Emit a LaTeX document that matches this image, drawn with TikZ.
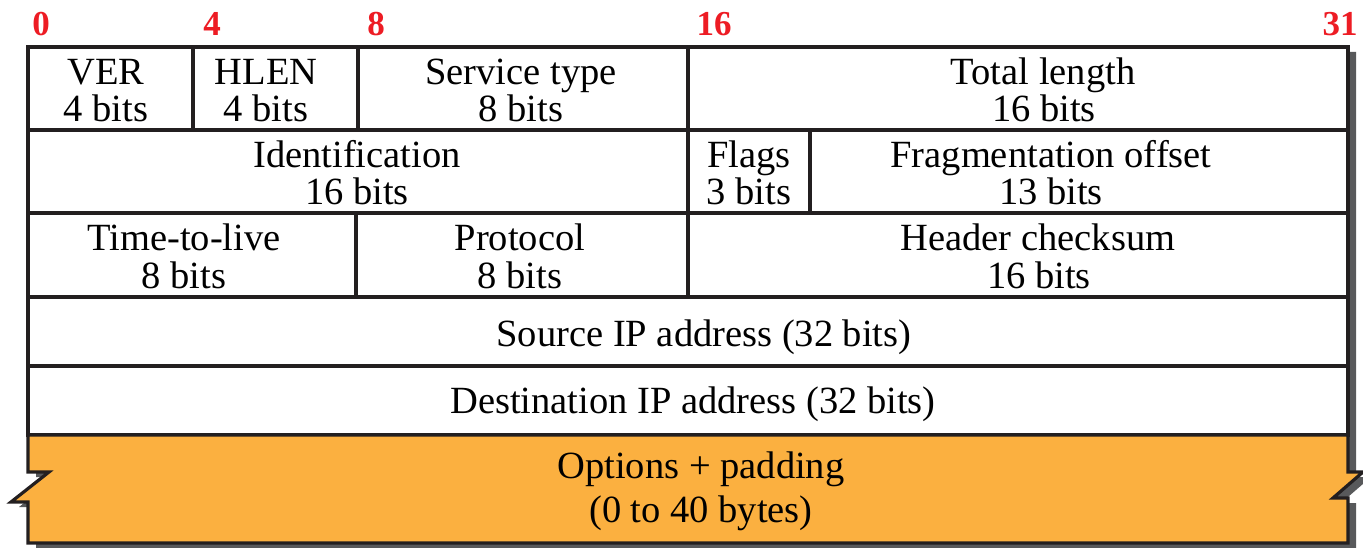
\documentclass[tikz,border=0pt]{standalone}
\usepackage{fontspec}
\setmainfont{Liberation Serif}
\definecolor{bordercol}{HTML}{231F20}
\definecolor{shadowcol}{HTML}{58595B}
\definecolor{optfill}{HTML}{FBB040}
\definecolor{bitred}{HTML}{ED1C24}
\tikzset{
  grid line/.style={draw=bordercol, line width=3.2pt},
  field/.style={anchor=base, inner sep=0pt, font=\fontsize{38.5}{40}\selectfont, text=black},
  bitnum/.style={anchor=base, inner sep=0pt, font=\fontsize{35}{36}\selectfont\bfseries, text=bitred},
}
\begin{document}
\begin{tikzpicture}[x=1pt,y=-1pt]
\useasboundingbox (0,0) rectangle (1363,548);
% shadow
\fill[shadowcol] (36,52) -- (1356,52) -- (1356,477) -- (1371,477) -- (1341,503) -- (1356,503) -- (1356,548) -- (36,548) -- (36,507) -- (19,507) -- (57,477) -- (36,477) -- cycle;
% header box
\filldraw[fill=white, grid line, line join=miter] (28,47) rectangle (1348,435);
% options block
\filldraw[fill=optfill, grid line, line join=miter] (28,435) -- (1348,435) -- (1348,472) -- (1363,472) -- (1333,498) -- (1348,498) -- (1348,543) -- (28,543) -- (28,502) -- (11,502) -- (49,472) -- (28,472) -- cycle;
% row lines
\draw[grid line] (28,130) -- (1348,130);
\draw[grid line] (28,213) -- (1348,213);
\draw[grid line] (28,297) -- (1348,297);
\draw[grid line] (28,366) -- (1348,366);
% column lines
\draw[grid line] (193,47) -- (193,130);
\draw[grid line] (358,47) -- (358,130);
\draw[grid line] (688,47) -- (688,297);
\draw[grid line] (810,130) -- (810,213);
\draw[grid line] (356,213) -- (356,297);
% bit numbers
\node[bitnum] (b0) at (41,36) {0};
\node[bitnum] (b4) at (212,36) {4};
\node[bitnum] (b8) at (376,36) {8};
\node[bitnum] (b16) at (714,36) {16};
\node[bitnum] (b31) at (1340,36) {31};
% row 1
\node[field] (ver1) at (106,85) {VER};
\node[field] (ver2) at (106,122) {4 bits};
\node[field] (hlen1) at (266,85) {HLEN};
\node[field] (hlen2) at (266,122) {4 bits};
\node[field] (svc1) at (521,85) {Service type};
\node[field] (svc2) at (521,122) {8 bits};
\node[field] (tot1) at (1043,85) {Total length};
\node[field] (tot2) at (1044,122) {16 bits};
% row 2
\node[field] (id1) at (357,168) {Identification};
\node[field] (id2) at (357,205) {16 bits};
\node[field] (fl1) at (749,168) {Flags};
\node[field] (fl2) at (749,205) {3 bits};
\node[field] (fo1) at (1051,168) {Fragmentation offset};
\node[field] (fo2) at (1051,205) {13 bits};
% row 3
\node[field] (ttl1) at (184,251) {Time-to-live};
\node[field] (ttl2) at (184,288) {8 bits};
\node[field] (pr1) at (520,251) {Protocol};
\node[field] (pr2) at (520,288) {8 bits};
\node[field] (hc1) at (1038,251) {Header checksum};
\node[field] (hc2) at (1039,288) {16 bits};
% rows 4, 5
\node[field] (src) at (704,346) {Source IP address (32 bits)};
\node[field] (dst) at (693,413) {Destination IP address (32 bits)};
% options
\node[field] (opt1) at (701,478) {Options + padding};
\node[field] (opt2) at (701,522) {(0 to 40 bytes)};
\end{tikzpicture}
\end{document}
